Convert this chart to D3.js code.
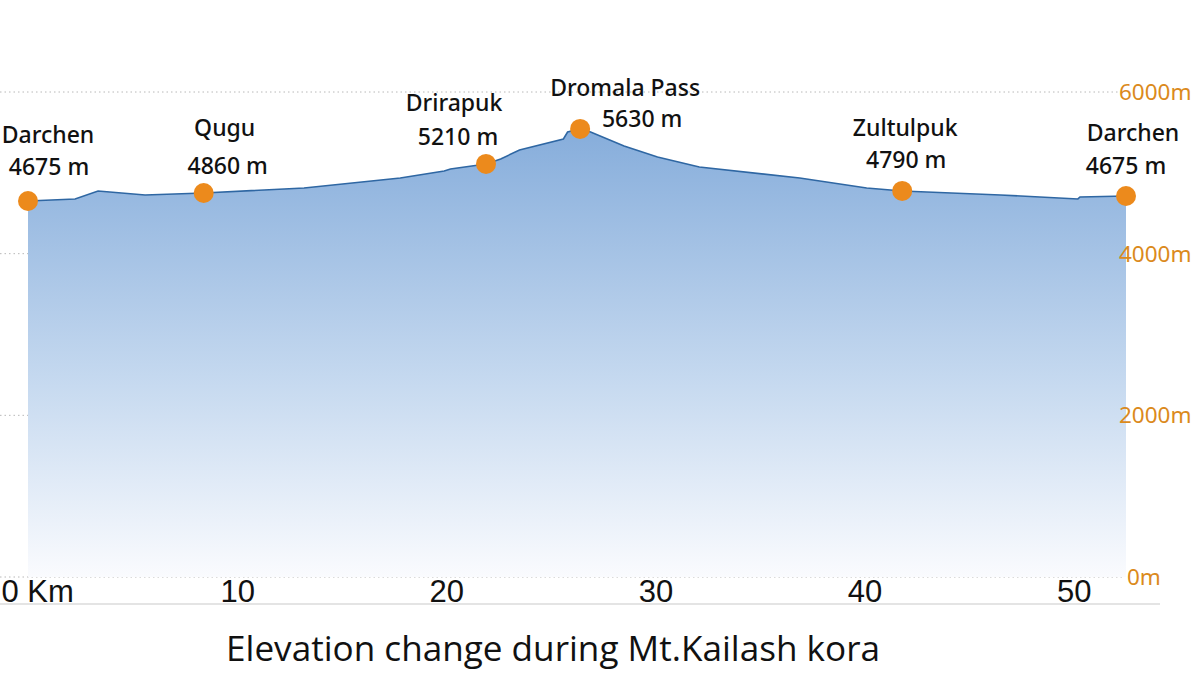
<html lang="en">
<head>
    <meta charset="UTF-8">
    <title>Elevation change during Mt.Kailash kora</title>
    <script type="text/javascript" src="https://cdn.jsdelivr.net/npm/d3@7/dist/d3.min.js"></script>
    <style>
        body{
            margin:0;
            padding:0;
            background:#fff;
        }
        svg {
            display:block;
        }
    </style>
</head>
<body>
<svg width=1200 height=675></svg>

<script>

// trail profile: km along the kora, elevation in m
var profileKm   = [0, 2.25, 3.35, 5.6, 8.4, 13.2, 17.8, 19.9, 20.2, 21.9, 22.6, 23.5, 25.6, 25.8, 26.4, 26.9, 28.5, 30.1, 32.1, 36.9, 40.1, 41.8, 46.5, 50.2, 50.3, 52.5]
var profileElev = [4652, 4677, 4776, 4726, 4751, 4813, 4936, 5023, 5048, 5110, 5171, 5283, 5419, 5505, 5543, 5505, 5332, 5196, 5072, 4936, 4813, 4776, 4726, 4677, 4701, 4714]

// stops along the way
var stopNames  = ['Darchen', 'Qugu', 'Drirapuk', 'Dromala Pass', 'Zultulpuk', 'Darchen']
var stopKm     = [0, 8.4, 21.9, 26.4, 41.8, 52.5]
var stopLabels = ['4675 m', '4860 m', '5210 m', '5630 m', '4790 m', '4675 m']

var kmTicks   = [0, 10, 20, 30, 40, 50]
var elevTicks = [0, 2000, 4000, 6000]

var title = 'Elevation change during Mt.Kailash kora'

// label placement (name dx/dy, value dx/dy) relative to the dot
var labelPos = [
    [20, -58, 21, -26],
    [21, -57, 24, -19],
    [-32, -53, -28, -19],
    [45, -33, 62, -2],
    [3, -55, 4, -23],
    [7, -55, 0, -22]
]

var svg = d3.select('svg')

var x = d3.scaleLinear().domain([0, 52.5]).range([28, 1126])
var y = d3.scaleLinear().domain([0, 6000]).range([577, 92])

var profile = profileKm.map((k, i) => ({km: k, elev: profileElev[i]}))

// gradient fill under the line
var grad = svg.append('defs').append('linearGradient')
    .attr('id', 'fill')
    .attr('x1', 0).attr('y1', 0).attr('x2', 0).attr('y2', 1)
grad.append('stop').attr('offset', '0%').attr('stop-color', '#86addb')
grad.append('stop').attr('offset', '55%').attr('stop-color', '#c4d8ef')
grad.append('stop').attr('offset', '100%').attr('stop-color', '#fafbfe')

// grid lines
svg.append('g')
    .selectAll('line')
    .data(elevTicks)
    .enter()
    .append('line')
    .attr('x1', 0)
    .attr('x2', d => d == 0 ? 1125 : 1118)
    .attr('y1', d => y(d))
    .attr('y2', d => y(d))
    .attr('stroke', '#b8b8b8')
    .attr('stroke-width', 1)
    .attr('stroke-dasharray', '1.5,3')

// area + line
svg.append('path')
    .datum(profile)
    .attr('fill', 'url(#fill)')
    .attr('d', d3.area().x(d => x(d.km)).y0(y(0)).y1(d => y(d.elev)))

svg.append('path')
    .datum(profile)
    .attr('fill', 'none')
    .attr('stroke', '#2f67a3')
    .attr('stroke-width', 1.6)
    .attr('d', d3.line().x(d => x(d.km)).y(d => y(d.elev)))

// right elevation labels
svg.append('g')
    .selectAll('text')
    .data(elevTicks)
    .enter()
    .append('text')
    .attr('x', d => d == 0 ? 1127 : 1119)
    .attr('y', d => y(d))
    .attr('dy', '0.35em')
    .attr('fill', '#db8a1c')
    .style('font', '22.5px "Noto Sans", sans-serif')
    .text(d => d + 'm')

// bottom axis
svg.append('line')
    .attr('x1', 0).attr('x2', 1160)
    .attr('y1', 604).attr('y2', 604)
    .attr('stroke', '#c9c9c9')

var xAxis = svg.append('g')
    .attr('transform', 'translate(0,' + 604 + ')')
    .call(d3.axisBottom(x).tickValues(kmTicks).tickSize(0).tickFormat(d => d == 0 ? '0 Km' : d))
xAxis.select('.domain').remove()
xAxis.selectAll('text')
    .attr('y', -2)
    .attr('dy', 0)
    .attr('fill', '#111')
    .style('font-family', '"Liberation Sans Narrow", "Liberation Sans", sans-serif')
    .style('font-size', '31px')
xAxis.selectAll('.tick').filter(d => d == 0).select('text')
    .attr('text-anchor', 'start')
    .attr('x', -27)

// stops
var stops = svg.append('g')
    .selectAll('g')
    .data(stopNames)
    .enter()
    .append('g')
    .each(function (d, i) {
        var k = stopKm[i]
        var p = profile.find(e => e.km == k)
        var cx = x(k), cy = y(p.elev)
        var obj = d3.select(this)
        var off = labelPos[i]
        obj.append('circle')
            .attr('cx', cx).attr('cy', cy)
            .attr('r', 10)
            .attr('fill', '#ec8a1c')
        obj.append('text')
            .attr('x', cx + off[0]).attr('y', cy + off[1])
            .attr('text-anchor', 'middle')
            .attr('fill', '#111')
            .style('font', '500 23px "Noto Sans", sans-serif')
            .text(d)
        obj.append('text')
            .attr('x', cx + off[2]).attr('y', cy + off[3])
            .attr('text-anchor', 'middle')
            .attr('fill', '#111')
            .style('font', '500 23px "Noto Sans", sans-serif')
            .text(stopLabels[i])
    })

// title
svg.append('text')
    .attr('x', 553)
    .attr('y', 661)
    .attr('text-anchor', 'middle')
    .attr('fill', '#111')
    .attr('textLength', 654)
    .attr('lengthAdjust', 'spacingAndGlyphs')
    .style('font', '34px "Open Sans", sans-serif')
    .text(title)

</script>
</body>
</html>
